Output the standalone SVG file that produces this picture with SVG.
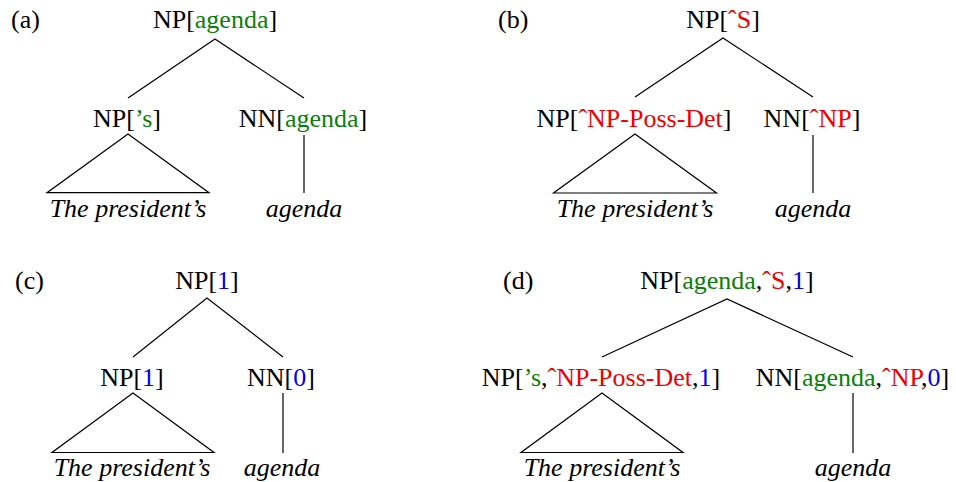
<svg xmlns="http://www.w3.org/2000/svg" width="956" height="482" viewBox="0 0 956 482">
<style>
text{font-family:"Liberation Serif","Times New Roman",serif;font-size:26px;fill:#000}
.m{text-anchor:middle}
.w{font-style:italic}
.g{fill:#0a800a}
.r{fill:#f00000}
.b{fill:#0000f0}
line,polyline,polygon{stroke:#000;stroke-width:1.2;fill:none}
</style>
<rect width="956" height="482" fill="#fff"/>
<g id="panel-a">
  <text id="a-label" x="11" y="28">(a)</text>
  <g id="a-root"><text class="m" x="215" y="28">NP[<tspan class="g">agenda</tspan>]</text></g>
  <g id="a-np"><text class="m" x="127" y="127">NP[<tspan class="g">’s</tspan>]</text></g>
  <g id="a-nn"><text class="m" x="303" y="127">NN[<tspan class="g">agenda</tspan>]</text></g>
  <g id="a-w1"><text class="m w" x="128" y="217">The president’s</text></g>
  <g id="a-w2"><text class="m w" x="304" y="217">agenda</text></g>
</g>
<g id="panel-b">
  <text id="b-label" x="498" y="28">(b)</text>
  <g id="b-root"><text class="m" x="723" y="28">NP[<tspan class="r">ˆS</tspan>]</text></g>
  <g id="b-np"><text class="m" x="634" y="127">NP[<tspan class="r">ˆNP-Poss-Det</tspan>]</text></g>
  <g id="b-nn"><text class="m" x="812" y="127">NN[<tspan class="r">ˆNP</tspan>]</text></g>
  <g id="b-w1"><text class="m w" x="635" y="217">The president’s</text></g>
  <g id="b-w2"><text class="m w" x="813" y="217">agenda</text></g>
</g>
<g id="panel-c">
  <text id="c-label" x="15" y="289">(c)</text>
  <g id="c-root"><text class="m" x="207" y="289">NP[<tspan class="b">1</tspan>]</text></g>
  <g id="c-np"><text class="m" x="132" y="386">NP[<tspan class="b">1</tspan>]</text></g>
  <g id="c-nn"><text class="m" x="281" y="386">NN[<tspan class="b">0</tspan>]</text></g>
  <g id="c-w1"><text class="m w" x="132" y="476">The president’s</text></g>
  <g id="c-w2"><text class="m w" x="282" y="476">agenda</text></g>
</g>
<g id="panel-d">
  <text id="d-label" x="503" y="289">(d)</text>
  <g id="d-root"><text class="m" x="727" y="289">NP[<tspan class="g">agenda</tspan>,<tspan class="r">ˆS</tspan>,<tspan class="b">1</tspan>]</text></g>
  <g id="d-np"><text class="m" x="601" y="386">NP[<tspan class="g">’s</tspan>,<tspan class="r">ˆNP-Poss-Det</tspan>,<tspan class="b">1</tspan>]</text></g>
  <g id="d-nn"><text class="m" x="852.5" y="386">NN[<tspan class="g">agenda</tspan>,<tspan class="r">ˆNP</tspan>,<tspan class="b">0</tspan>]</text></g>
  <g id="d-w1"><text class="m w" x="602" y="476">The president’s</text></g>
  <g id="d-w2"><text class="m w" x="853" y="476">agenda</text></g>
</g>
<g id="connectors">
  <polyline points="128,98 215,39 304,98"/>
  <polygon points="128,134 47,192.7 209,192.7"/>
  <line x1="304" y1="135" x2="304" y2="193"/>
  <polyline points="635,97 723,38 813,97"/>
  <polygon points="635,134 553.5,193 716.5,193"/>
  <line x1="813" y1="135" x2="813" y2="193"/>
  <polyline points="133,357 207,298 283,357"/>
  <polygon points="133,393 52,452.5 214,452.5"/>
  <line x1="283" y1="393" x2="283" y2="453"/>
  <polyline points="602,357 727,299 853,357"/>
  <polygon points="602,393 521,452.5 683,452.5"/>
  <line x1="853" y1="393" x2="853" y2="453"/>
</g>
</svg>
